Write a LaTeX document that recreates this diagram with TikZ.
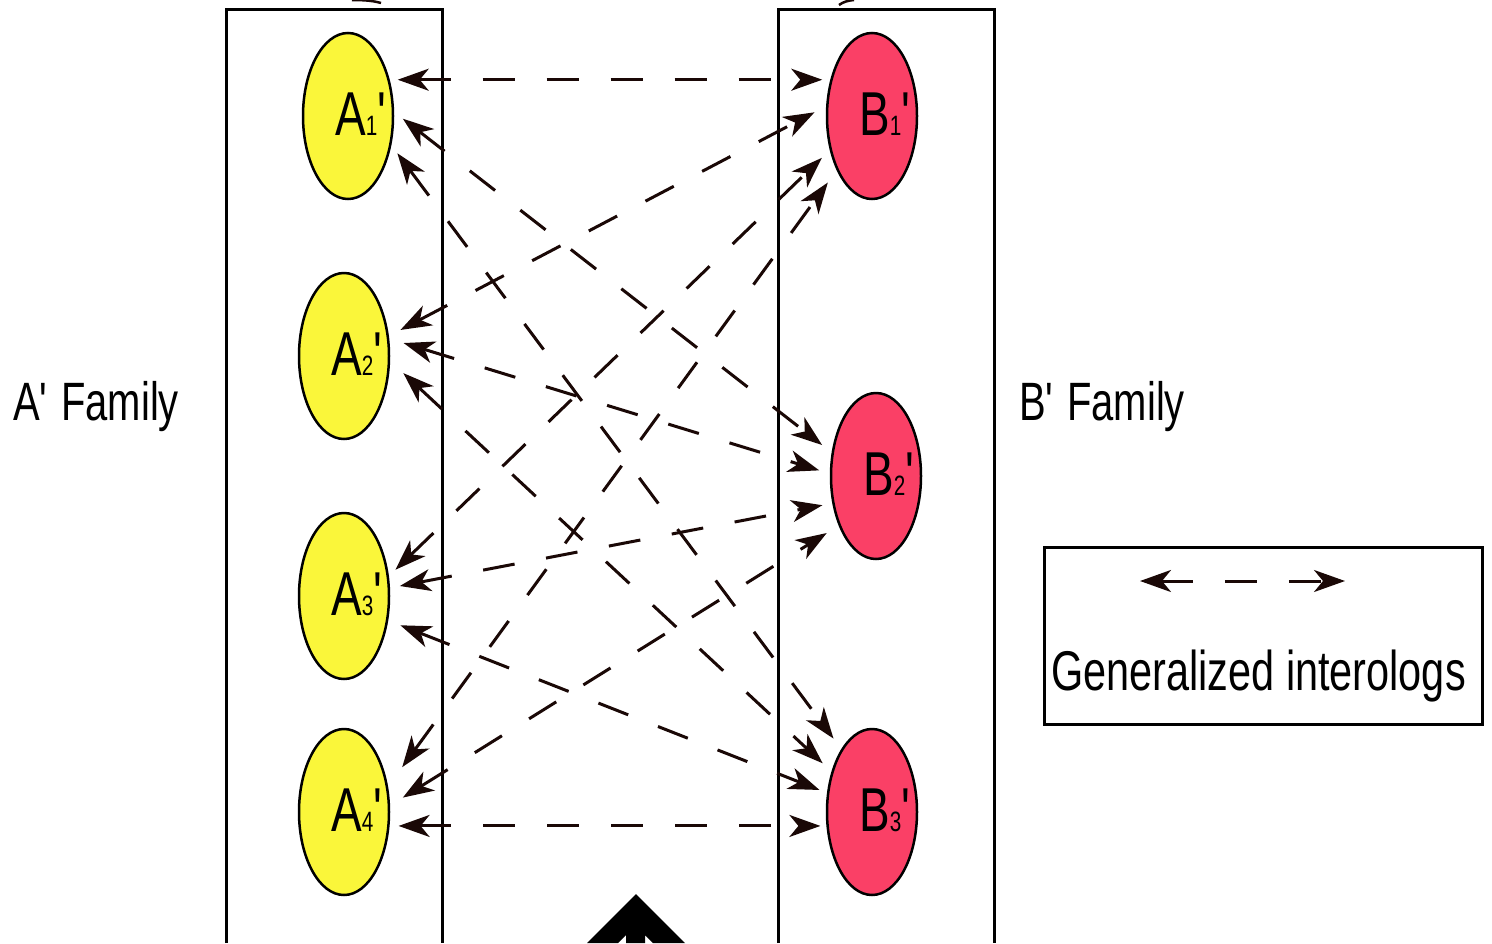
\documentclass[tikz,border=0pt]{standalone}
\usepackage{fontspec}
\setmainfont{Liberation Sans}[FakeStretch=0.74]
\usetikzlibrary{arrows.meta,shapes.geometric}

\definecolor{famyellow}{RGB}{250,246,58}
\definecolor{famred}{RGB}{250,64,102}
\definecolor{linkcol}{RGB}{26,8,6}

\newcommand{\famlabel}[2]{{\fontsize{62}{62}\selectfont #1{\fontsize{28}{28}\selectfont #2}\textquotesingle}}

\begin{document}
\begin{tikzpicture}[x=1pt, y=-1pt, >={Stealth[length=31pt,width=22pt,inset=9pt]}]
\useasboundingbox (0,0) rectangle (1492,943);
\tikzstyle{famA} = [ellipse, draw, line width=2.5pt, fill=famyellow, minimum width=90pt, minimum height=166pt, inner sep=0pt]
\tikzstyle{famB} = [famA, fill=famred]
\tikzstyle{lbl} = [anchor=base west, inner sep=0pt]
\tikzstyle{bigtext} = [anchor=base west, inner sep=0pt, font=\fontsize{56}{56}\selectfont]
\tikzstyle{link} = [draw=linkcol, line width=3pt, dash pattern=on 32pt off 32pt, <->]

% the two family boxes
\draw[line width=3pt] (226,943) -- (226,9) -- (442,9) -- (442,943);
\draw[line width=3pt] (778,943) -- (778,9) -- (994,9) -- (994,943);

\foreach \n/\x/\y in {1/348/116, 2/344/356, 3/344/596, 4/344/812} {
  \node[famA] (A\n) at (\x,\y) {};
  \node[lbl] at ([shift={(-13pt,-19pt)}]A\n.center) {\famlabel{A}{\n}};
}
\foreach \n/\x/\y in {1/872/116, 2/876/476, 3/872/812} {
  \node[famB] (B\n) at (\x,\y) {};
  \node[lbl] at ([shift={(-13pt,-19pt)}]B\n.center) {\famlabel{B}{\n}};
}

\node[bigtext, font=\fontsize{54}{54}\selectfont] (afam) at (13,420) {A\textquotesingle{} Family};
\node[bigtext, font=\fontsize{54}{54}\selectfont] (bfam) at (1019,420) {B\textquotesingle{} Family};

% interologs
\foreach \from/\to/\sa/\sb in {A1.41/B1.139/8/8, A1.5/B2.152/11/12, A1.326/B3.116/10/13,
  A2.24/B1.168/13/13, A2.21/B2.177/15/11, A2.354/B3.135/18/12,
  A3.24/B1.219/9/11, A3.10/B2.212/10/10, A3.331/B3.157/13/8,
  A4.30/B1.237/24/15, A4.8/B2.233/15/14, A4.343/B3.197/9/6}
  \draw[link, shorten <=\sa pt, shorten >=\sb pt] (\from) -- (\to);

% legend
\draw[line width=3pt] (1044,547) rectangle (1482,724);
\coordinate (kl) at (1140,581);
\coordinate (kr) at (1345,581);
\draw[link] (kl) -- (kr);
\node[bigtext] (key) at (1051,690) {Generalized interologs};

% cut-off marks at the edges
\draw[line width=2.5pt, linkcol] (352,0) .. controls (366,0) and (374,1) .. (381,3);
\draw[line width=2.5pt, linkcol] (839,5) .. controls (843,2) and (848,0.5) .. (854,0);
\fill (636,894) -- (685,943) -- (653,943) -- (645,935) -- (645,943) -- (626,943)
  -- (626,935) -- (618,943) -- (587,943) -- cycle;
\end{tikzpicture}
\end{document}
